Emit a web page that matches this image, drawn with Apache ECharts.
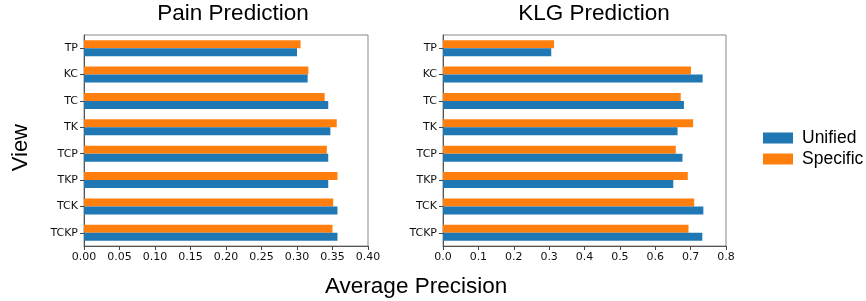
<!DOCTYPE html>
<html>
<head>
<meta charset="utf-8">
<script src="https://cdn.jsdelivr.net/npm/echarts@6/dist/echarts.min.js"></script>
<style>
	html, body { margin: 0; padding: 0; background: #fff; }
	#chart { width: 866px; height: 301px; }
</style>
</head>
<body>
<div id="chart"></div>
<script>
// views, top to bottom
var views = ['TP', 'KC', 'TC', 'TK', 'TCP', 'TKP', 'TCK', 'TCKP']

var painUnified = [0.300, 0.315, 0.344, 0.347, 0.344, 0.344, 0.357, 0.357]
var painSpecific = [0.305, 0.316, 0.339, 0.356, 0.342, 0.357, 0.351, 0.350]

var klgUnified = [0.306, 0.734, 0.681, 0.663, 0.677, 0.651, 0.736, 0.733]
var klgSpecific = [0.314, 0.701, 0.672, 0.707, 0.658, 0.692, 0.710, 0.694]

var painTicks = { min: 0, max: 0.4, interval: 0.05, digits: 2 }
var klgTicks = { min: 0, max: 0.8, interval: 0.1, digits: 1 }

var blue = '#1f77b4'
var orange = '#ff7f0e'
var tickFont = 'DejaVu Sans'
var textFont = 'Liberation Sans'

function xAxis(idx, t) {
	return {
		type: 'value', gridIndex: idx,
		min: t.min, max: t.max, interval: t.interval,
		axisLine: { show: true, lineStyle: { color: '#555', width: 1 } },
		axisTick: { show: true, length: 4, lineStyle: { color: '#444' } },
		axisLabel: {
			color: '#111', fontFamily: tickFont, fontSize: 11, margin: 6,
			formatter: function(v) { return v.toFixed(t.digits) }
		},
		splitLine: { show: false }
	}
}

function yAxis(idx) {
	return {
		type: 'category', gridIndex: idx, data: views, inverse: true,
		axisLine: { show: true, lineStyle: { color: '#555', width: 1 } },
		axisTick: { show: true, length: 4, alignWithLabel: true, lineStyle: { color: '#444' } },
		axisLabel: { color: '#111', fontFamily: tickFont, fontSize: 11, margin: 6 }
	}
}

function bars(name, data, color, idx) {
	return {
		name: name, type: 'bar', xAxisIndex: idx, yAxisIndex: idx,
		data: data, barWidth: 8, barGap: '0%',
		itemStyle: { color: color },
		animation: false
	}
}

var chart = echarts.init(document.getElementById('chart'))
chart.setOption({
	animation: false,
	title: [
		{ text: 'Pain Prediction', left: 233, top: 2, textAlign: 'center', padding: 0,
			textStyle: { fontFamily: textFont, fontSize: 22.5, fontWeight: 'normal', color: '#000' } },
		{ text: 'KLG Prediction', left: 594, top: 2, textAlign: 'center', padding: 0,
			textStyle: { fontFamily: textFont, fontSize: 22.5, fontWeight: 'normal', color: '#000' } }
	],
	grid: [
		{ left: 84, top: 35, width: 284, height: 211, show: true, borderColor: '#888', borderWidth: 1 },
		{ left: 443, top: 35, width: 283, height: 211, show: true, borderColor: '#888', borderWidth: 1 }
	],
	legend: {
		orient: 'vertical', left: 763, top: 129, padding: 0,
		itemWidth: 30, itemHeight: 11, itemGap: 3, icon: 'rect',
		textStyle: { fontFamily: textFont, fontSize: 17.5, color: '#000', padding: [0, 0, 0, 4] },
		data: ['Unified', 'Specific']
	},
	xAxis: [xAxis(0, painTicks), xAxis(1, klgTicks)],
	yAxis: [yAxis(0), yAxis(1)],
	series: [
		bars('Specific', painSpecific, orange, 0),
		bars('Unified', painUnified, blue, 0),
		bars('Specific', klgSpecific, orange, 1),
		bars('Unified', klgUnified, blue, 1)
	],
	graphic: [
		{ type: 'text', left: 10, top: 124, rotation: Math.PI / 2,
			style: { text: 'View', font: '22px "Liberation Sans"', fill: '#000' } },
		{ type: 'text', left: 325, top: 275,
			style: { text: 'Average Precision', font: '22.5px "Liberation Sans"', fill: '#000' } }
	]
})
</script>
</body>
</html>
